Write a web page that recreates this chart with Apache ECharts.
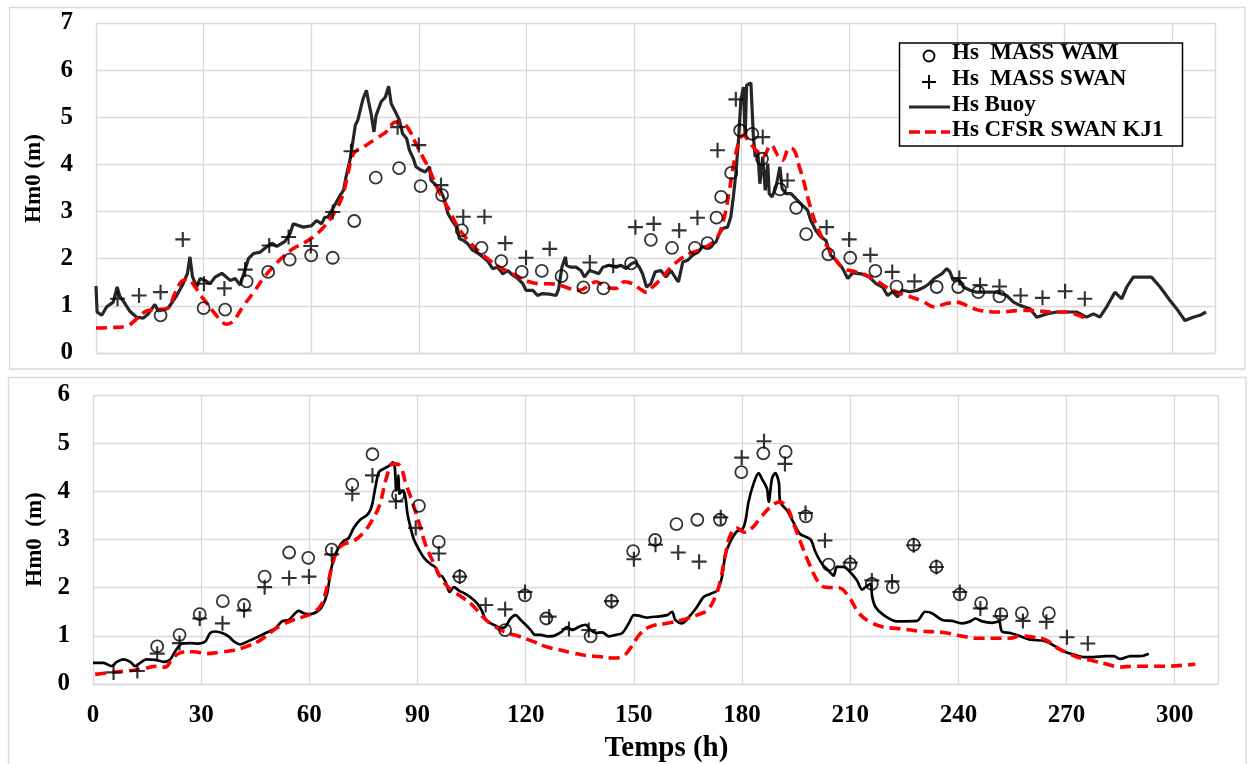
<!DOCTYPE html>
<html>
<head>
<meta charset="utf-8">
<title>Hm0 — Buoy / MASS / CFSR</title>
<script src="https://cdn.jsdelivr.net/npm/echarts@6/dist/echarts.min.js"></script>
<style>
  html, body { margin: 0; padding: 0; background: #ffffff; }
  #chart { width: 1248px; height: 764px; }
</style>
</head>
<body>
<div id="chart"></div>
<script>
// ---- Series names ----
const NAME_WAM = 'Hs  MASS WAM';
const NAME_SWAN = 'Hs  MASS SWAN';
const NAME_BUOY = 'Hs Buoy';
const NAME_CFSR = 'Hs CFSR SWAN KJ1';

// ---- Axis ticks ----
const X_MAX = 312, X_STEP = 30;
const TOP_Y_MAX = 7, BOT_Y_MAX = 6, Y_STEP = 1;

// ---- Upper panel: [time (h), Hm0 (m)] ----
const topWam = [[18,0.8],[30,0.95],[36,0.92],[42,1.52],[48,1.72],[54,1.98],[60,2.07],[66,2.02],[72,2.8],[78,3.72],[84.5,3.92],[90.5,3.54],[96.5,3.35],[102,2.6],[107.5,2.23],[113,1.95],[118.7,1.72],[124.3,1.74],[129.8,1.63],[135.9,1.39],[141.5,1.37],[149.2,1.9],[154.7,2.4],[160.6,2.23],[167,2.23],[170.5,2.33],[173,2.87],[174.3,3.31],[177.1,3.82],[179.6,4.72],[183,4.65],[185.7,4.12],[190.7,3.47],[195.2,3.08],[198,2.52],[204.2,2.09],[210.3,2.02],[217.3,1.74],[223.2,1.41],[234.4,1.4],[240.4,1.4],[246,1.29],[251.9,1.2]];

const topSwan = [[6,1.15],[12,1.22],[18,1.29],[24.2,2.41],[30.1,1.47],[35.8,1.37],[41.6,1.77],[48.3,2.28],[53.7,2.46],[59.9,2.27],[66,2.99],[71.1,4.28],[84.1,4.79],[90,4.41],[96.2,3.56],[102.4,2.89],[108.3,2.89],[114.1,2.33],[119.9,2.02],[126.5,2.21],[137.7,1.92],[144.2,1.85],[150.4,2.67],[155.5,2.74],[162.6,2.6],[167.7,2.87],[173.3,4.3],[178.4,5.38],[185.9,4.58],[192.8,3.66],[203.7,2.67],[210,2.41],[215.9,2.08],[222,1.72],[228.2,1.52],[240.7,1.59],[246.5,1.44],[251.9,1.41],[257.8,1.22],[263.9,1.17],[270.2,1.31],[275.7,1.15]];

const topBuoy = [[0,1.42],[0.3,0.87],[1.6,0.8],[3,0.98],[4.8,1.08],[5.9,1.4],[6.6,1.21],[7.8,1.08],[9.5,0.88],[11.3,0.76],[13.2,0.74],[14.6,0.83],[16.4,1.03],[17.4,0.89],[18.8,0.92],[20.2,0.96],[22.5,1.22],[24.3,1.47],[25.5,1.69],[26.2,2.04],[26.9,1.62],[28.1,1.4],[29,1.58],[30.4,1.54],[31.8,1.47],[33.2,1.61],[35.1,1.69],[37.4,1.54],[38.8,1.58],[40.2,1.44],[42.5,2.0],[43.9,2.11],[45.8,2.14],[47.1,2.22],[49,2.33],[50.4,2.26],[52.7,2.37],[54.1,2.53],[55,2.74],[57.8,2.67],[60.1,2.7],[61.5,2.81],[62.9,2.74],[63.8,2.88],[64.6,2.88],[66,3.06],[67.8,3.31],[69,3.45],[69.7,3.73],[70.8,4.09],[71.4,4.37],[72.3,4.83],[73,4.94],[73.9,5.22],[74.5,5.4],[75.4,5.57],[76,5.33],[76.7,5.08],[77.5,4.69],[78.1,5.04],[79.5,5.33],[80.7,5.43],[81.6,5.66],[82.3,5.29],[83.7,5.08],[84.6,4.94],[85.5,4.65],[86.6,4.55],[87.4,4.3],[88.5,4.12],[89.2,3.95],[90.6,3.88],[91.8,3.84],[93,3.95],[93.4,3.66],[94.8,3.56],[96.2,3.42],[97.1,3.27],[98.1,2.96],[99.5,2.78],[100.8,2.64],[101.3,2.43],[102.4,2.39],[103.6,2.32],[105,2.18],[106.4,2.12],[107.8,2.04],[109.2,1.95],[110.6,1.79],[112,1.82],[113.4,1.68],[114.8,1.75],[116.2,1.65],[117.6,1.58],[119,1.47],[119.9,1.33],[121.8,1.33],[123.1,1.22],[124.5,1.26],[126.4,1.25],[128.3,1.22],[129,1.36],[129.9,1.82],[130.9,2.04],[131.2,1.86],[132.4,1.82],[133.8,1.82],[135.2,1.75],[136.2,1.61],[137.6,1.75],[138.9,1.72],[140.2,1.68],[141.3,1.82],[143.1,1.86],[145,1.82],[146.4,1.86],[147.8,1.79],[149.2,1.89],[150.4,1.93],[151.5,1.82],[152.4,1.68],[153.5,1.4],[154.7,1.47],[155.9,1.72],[157.5,1.75],[158.9,1.61],[160.3,1.75],[161.7,1.58],[162.4,1.51],[163.6,1.93],[165,1.97],[166.3,2.07],[167.7,2.14],[169.1,2.25],[171,2.25],[172.9,2.36],[173.8,2.53],[174.7,2.64],[176.1,2.67],[177,2.89],[177.7,3.31],[178.4,3.8],[179.2,4.58],[179.8,5.36],[180.5,5.64],[181,4.58],[181.4,5.68],[182.6,5.73],[183.3,4.58],[183.8,4.16],[184.5,4.3],[185.1,3.59],[185.9,4.16],[186.6,3.45],[187.3,4.02],[187.7,3.38],[188.5,3.31],[189.6,3.52],[190.7,3.95],[191.3,3.49],[192.4,3.38],[193.8,3.38],[195.2,3.27],[197,3.13],[198.4,3.03],[199.3,2.81],[200.7,2.6],[202.1,2.46],[203.5,2.39],[204.9,2.07],[206.3,1.97],[208.2,1.79],[209.6,1.58],[211,1.7],[213.3,1.68],[215.6,1.61],[217.5,1.47],[219.3,1.4],[220.7,1.22],[222.1,1.3],[223.5,1.19],[224.9,1.33],[226.8,1.3],[229.1,1.33],[231,1.4],[232.3,1.47],[233.7,1.58],[235.8,1.68],[237.2,1.79],[238.1,1.72],[239,1.54],[240.4,1.58],[241.8,1.4],[243.7,1.33],[245.5,1.29],[248.3,1.29],[251.1,1.29],[253.9,1.22],[255.8,1.08],[257.6,1.01],[260.4,0.94],[262.3,0.76],[265.1,0.83],[267.8,0.87],[270.6,0.87],[273.4,0.87],[276.2,0.76],[278.1,0.83],[279.9,0.76],[281.8,0.98],[284.1,1.29],[286,1.15],[287.4,1.4],[289.2,1.61],[292,1.61],[294.3,1.61],[296.7,1.4],[299.4,1.12],[301.3,0.94],[303.6,0.69],[305.9,0.76],[307.8,0.8],[309.5,0.87]];

const topCfsr = [[0,0.53],[4,0.54],[8.5,0.57],[11.3,0.72],[14.1,0.89],[16.9,0.92],[19.7,0.94],[22.1,1.28],[23.9,1.52],[25.7,1.56],[27.6,1.41],[29,1.24],[30.9,1.06],[32.7,0.88],[34.6,0.71],[36.4,0.61],[38.3,0.68],[41.1,1.0],[43.9,1.28],[46.7,1.59],[49.5,1.84],[52.3,2.05],[55.1,2.22],[57.9,2.33],[60.7,2.47],[63.6,2.68],[66.4,2.97],[68.7,3.32],[70.1,3.75],[71.9,4.24],[74.8,4.38],[78.1,4.55],[80.9,4.69],[83.6,4.9],[85.5,4.88],[87.4,4.72],[89.2,4.44],[91.1,4.16],[93,3.88],[94.8,3.56],[96.7,3.27],[98.5,3.03],[100.4,2.74],[102.2,2.53],[104.6,2.32],[106.9,2.14],[109.7,1.97],[112.5,1.82],[115.2,1.72],[118,1.61],[120.8,1.51],[123.6,1.47],[126.4,1.47],[129.2,1.44],[132,1.37],[134.8,1.33],[137.5,1.44],[139.4,1.51],[142.2,1.4],[145,1.37],[147.3,1.51],[149.6,1.47],[151.5,1.37],[153.4,1.29],[155.2,1.4],[158,1.61],[160.3,1.82],[162.6,1.97],[165.4,2.11],[168.2,2.18],[171,2.29],[173.3,2.46],[175.2,2.89],[176.6,3.45],[178,4.09],[179.4,4.51],[180.5,4.62],[182.1,4.48],[184,4.3],[185.9,4.16],[188.2,4.41],[190.1,4.19],[191.4,4.09],[193.3,4.34],[194.7,4.3],[196.1,3.95],[197.5,3.59],[198.9,3.17],[200.7,2.74],[202.6,2.43],[204.5,2.18],[206.3,1.97],[208.6,1.79],[211.9,1.72],[214.7,1.65],[217.5,1.54],[220.3,1.4],[223,1.3],[226.8,1.2],[230.5,1.1],[233.5,0.98],[237.2,1.05],[240,1.08],[242.7,1.01],[246.5,0.9],[252,0.87],[257.6,0.9],[261.3,0.9],[266.9,0.87],[270.6,0.87],[273.9,0.8],[276.2,0.73]];

// ---- Lower panel: [time (h), Hm0 (m)] ----
const botWam = [[17.8,0.78],[24,1.02],[29.6,1.45],[36,1.72],[41.9,1.64],[47.6,2.23],[54.4,2.73],[59.7,2.62],[66.2,2.79],[71.9,4.14],[77.5,4.77],[84.6,3.92],[90.4,3.7],[95.9,2.95],[101.7,2.23],[114.3,1.12],[119.8,1.84],[125.7,1.36],[138,0.99],[143.8,1.72],[149.8,2.76],[155.9,2.99],[161.8,3.32],[167.6,3.41],[173.9,3.41],[179.8,4.4],[185.9,4.79],[192.1,4.82],[197.7,3.48],[204,2.48],[210,2.49],[216,2.08],[221.8,2.01],[227.6,2.89],[233.9,2.43],[240.4,1.86],[246.3,1.68],[251.9,1.45],[257.6,1.47],[265.1,1.47]];

const botSwan = [[5.7,0.24],[12.3,0.27],[17.8,0.63],[24,0.85],[29.6,1.36],[35.9,1.26],[41.9,1.53],[47.6,2.01],[54.4,2.2],[59.9,2.23],[66.2,2.69],[71.9,3.95],[77.5,4.33],[84,3.79],[89.5,3.24],[95.9,2.71],[101.7,2.23],[108.9,1.64],[114.3,1.55],[119.8,1.91],[126.5,1.4],[132,1.14],[137.5,1.12],[143.8,1.72],[150,2.59],[156,2.89],[162.3,2.73],[168.1,2.54],[174.1,3.46],[179.9,4.7],[186.1,5.04],[191.9,4.57],[197.6,3.55],[203,2.98],[210,2.52],[216,2.15],[221.6,2.13],[227.6,2.88],[233.9,2.43],[240.4,1.91],[246.1,1.57],[251.6,1.41],[257.9,1.31],[264.4,1.29],[270.1,0.97],[275.9,0.84]];

const botBuoy = [[0,0.44],[2.9,0.44],[5.2,0.37],[6.6,0.46],[8.5,0.51],[10.3,0.46],[11.7,0.37],[13.1,0.44],[14.8,0.51],[17.3,0.5],[19.6,0.46],[21.4,0.51],[22.8,0.68],[24.7,0.84],[27,0.85],[29.3,0.84],[31.2,0.89],[32.5,1.06],[33.9,1.09],[35.8,1.06],[37.6,0.99],[39,0.89],[40.8,0.82],[43.1,0.89],[46.4,1.0],[48.2,1.07],[50.5,1.15],[52.4,1.3],[54.3,1.33],[55.6,1.43],[57,1.52],[58.4,1.47],[60.2,1.45],[62.1,1.5],[63.5,1.6],[64.9,1.87],[65.8,2.28],[66.7,2.59],[68.1,2.83],[69.5,2.97],[70.9,3.03],[72.3,3.24],[74.1,3.41],[76,3.51],[76.9,3.61],[77.5,3.75],[78.4,4.12],[79.3,4.4],[80.7,4.47],[82.1,4.53],[83.2,4.6],[83.7,4.5],[84.1,4.02],[84.7,4.33],[85,3.95],[86,4.02],[86.7,3.85],[87.2,3.54],[88.1,3.24],[89,3.0],[90.4,2.79],[91.8,2.62],[93.6,2.49],[95,2.42],[95.8,2.27],[96.9,2.23],[98,2.08],[98.9,1.91],[100.1,2.01],[101.5,1.94],[103.3,1.87],[105.2,1.77],[106.6,1.67],[107.8,1.53],[108.9,1.34],[110.3,1.26],[111.7,1.21],[113.1,1.16],[114.4,1.19],[115.8,1.36],[117.2,1.43],[118.6,1.33],[120,1.23],[121.4,1.12],[122.6,1.02],[124.1,1.02],[126,0.99],[127.8,1.0],[129.7,1.07],[131.5,1.18],[132.9,1.12],[134.8,1.19],[136.6,1.23],[138,1.12],[139.4,1.06],[141.2,1.07],[143.1,0.99],[145,1.02],[146.8,1.06],[148.6,1.26],[150,1.43],[151.4,1.42],[153.5,1.38],[156.4,1.4],[159.2,1.43],[160.6,1.5],[161.5,1.33],[163.3,1.26],[165.7,1.43],[167.5,1.6],[169.4,1.81],[171.2,1.87],[173.1,1.94],[174.4,2.21],[175.4,2.69],[176.8,2.96],[178.6,3.17],[180,3.2],[180.9,3.37],[181.8,3.78],[183.2,4.16],[184.6,4.38],[185.5,4.26],[186.9,4.06],[187.4,3.78],[188.3,4.26],[189.2,4.38],[190.2,4.19],[190.6,3.78],[192.5,3.6],[194.3,3.35],[196,3.12],[199,3.0],[200.3,2.75],[202.2,2.49],[204,2.35],[205.4,2.25],[206.3,2.43],[208.2,2.43],[210,2.32],[211.9,2.15],[213.3,1.96],[214.2,2.01],[215.6,2.08],[216.1,1.81],[217,1.6],[219.3,1.43],[223,1.3],[228.5,1.31],[230.8,1.5],[232.7,1.47],[235.5,1.33],[238.2,1.31],[241,1.26],[243.3,1.3],[244.7,1.36],[246.6,1.3],[249.3,1.27],[251.2,1.3],[252.1,1.09],[254.4,1.06],[257.2,0.99],[259.9,0.92],[264.1,0.89],[266.9,0.78],[269.2,0.68],[272,0.61],[274.7,0.56],[277.5,0.56],[280.8,0.58],[283.1,0.58],[284.9,0.52],[287.7,0.58],[290.5,0.58],[292.8,0.63]];

const botCfsr = [[0.6,0.2],[4.8,0.24],[9.4,0.27],[14,0.32],[17.7,0.37],[20,0.35],[21.9,0.51],[24.2,0.65],[27.9,0.67],[31.6,0.63],[35.3,0.66],[39,0.7],[42.7,0.78],[46.4,0.91],[49.6,1.09],[52.4,1.23],[55.6,1.33],[58.9,1.41],[61.6,1.5],[63.5,1.67],[64.9,2.01],[66.3,2.45],[67.7,2.76],[69.5,2.9],[72.3,2.97],[75,3.14],[77.4,3.4],[79.5,3.72],[81.3,4.26],[83.2,4.57],[84.9,4.55],[86.8,4.15],[88.7,3.75],[90.4,3.35],[92.2,2.9],[94.6,2.49],[96.9,2.15],[99.6,1.94],[102.4,1.8],[105.2,1.64],[108,1.4],[110.7,1.23],[114.4,1.07],[118.1,0.99],[121.8,0.89],[125.5,0.78],[129.2,0.71],[132.9,0.65],[136.6,0.59],[140.3,0.57],[144,0.54],[146.8,0.57],[149.1,0.75],[151.6,1.03],[154.5,1.19],[159.2,1.26],[163.3,1.33],[167.5,1.43],[170.3,1.53],[172.6,1.81],[174,2.15],[175.4,2.69],[176.8,3.1],[178.6,3.24],[180.6,3.15],[182.8,3.24],[185,3.44],[187.8,3.67],[190.4,3.78],[192.6,3.65],[194.4,3.31],[196.3,2.93],[198.6,2.5],[201.3,2.1],[203.2,2.01],[206.9,2.0],[209.7,1.8],[212.4,1.47],[215.2,1.3],[218.9,1.19],[223.5,1.15],[229.1,1.1],[235.9,1.07],[240.5,1.0],[245.2,0.95],[249.8,0.95],[254.4,0.95],[257.2,1.0],[260.9,0.97],[264.1,0.92],[267.4,0.75],[270.1,0.65],[273.8,0.54],[277.5,0.48],[281.2,0.41],[284.9,0.35],[288.6,0.37],[293.2,0.37],[297.9,0.37],[302.5,0.39],[305.7,0.41]];

// ---- Styling ----
const FONT = "'Liberation Serif', 'Times New Roman', serif";
const GRID_COLOR = '#d9d9d9';
const PLUS_PATH = 'path://M6,0H8V6H14V8H8V14H6V8H0V6H6Z';

function xAxisFor(gridIndex, showLabels) {
  return {
    type: 'value', gridIndex, min: 0, max: X_MAX, interval: X_STEP,
    axisLine: { show: true, lineStyle: { color: GRID_COLOR, width: 1.3 } },
    axisTick: { show: false },
    axisLabel: { show: showLabels, fontFamily: FONT, fontWeight: 'bold', fontSize: 25, color: '#000', margin: 19,
      formatter: v => (v % X_STEP === 0 ? String(v) : '') },
    splitLine: { show: true, lineStyle: { color: GRID_COLOR, width: 1.3 } },
    name: showLabels ? 'Temps (h)' : '',
    nameLocation: 'middle', nameGap: 50,
    nameTextStyle: { fontFamily: FONT, fontWeight: 'bold', fontSize: 29, color: '#000', padding: [0, 0, 0, 22] }
  };
}

function yAxisFor(gridIndex, max, name, gap, pad) {
  return {
    type: 'value', gridIndex, min: 0, max, interval: Y_STEP,
    axisLine: { show: false }, axisTick: { show: false },
    axisLabel: { fontFamily: FONT, fontWeight: 'bold', fontSize: 25, color: '#000', margin: 23 },
    splitLine: { show: true, lineStyle: { color: GRID_COLOR, width: 1.3 } },
    name, nameLocation: 'middle', nameGap: gap, nameRotate: 90,
    nameTextStyle: { fontFamily: FONT, fontWeight: 'bold', fontSize: 23, color: '#000', padding: pad }
  };
}

function buoySeries(data, idx, color, width, smooth) {
  return { name: NAME_BUOY, type: 'line', xAxisIndex: idx, yAxisIndex: idx, data, showSymbol: false,
    smooth, lineStyle: { color, width }, z: 2, silent: true };
}
function cfsrSeries(data, idx) {
  return { name: NAME_CFSR, type: 'line', xAxisIndex: idx, yAxisIndex: idx, data, showSymbol: false,
    smooth: 0.4, lineStyle: { color: '#ff0000', width: 3.6, type: [11, 6] }, z: 3, silent: true };
}
function wamSeries(data, idx) {
  return { name: NAME_WAM, type: 'scatter', xAxisIndex: idx, yAxisIndex: idx, data, symbol: 'circle', symbolSize: 12,
    itemStyle: { color: 'rgba(0,0,0,0)', borderColor: '#000', borderWidth: 1.8 }, z: 4, silent: true };
}
function swanSeries(data, idx) {
  return { name: NAME_SWAN, type: 'scatter', xAxisIndex: idx, yAxisIndex: idx, data, symbol: PLUS_PATH, symbolSize: 15,
    itemStyle: { color: '#000' }, z: 4, silent: true };
}

// Legend drawn as a framed key in the upper panel
const LX = 899.5, LY = 43, LW = 283, LH = 103;
const keyText = (y, text) => ({ type: 'text', left: 952, top: y - 13, z: 21,
  style: { text, fontFamily: FONT, fontWeight: 'bold', fontSize: 23, fill: '#000' } });

const option = {
  backgroundColor: '#ffffff',
  animation: false,
  grid: [
    { left: 96, right: 33, top: 23, height: 330 },
    { left: 93, right: 30, top: 395, height: 293 }
  ],
  xAxis: [xAxisFor(0, false), xAxisFor(1, true)],
  yAxis: [yAxisFor(0, TOP_Y_MAX, 'Hm0 (m)', 50, [0, 0, 0, 19]), yAxisFor(1, BOT_Y_MAX, 'Hm0  (m)', 43, [0, 0, 0, 0])],
  series: [
    buoySeries(topBuoy, 0, '#262626', 3.2, false),
    cfsrSeries(topCfsr, 0),
    wamSeries(topWam, 0),
    swanSeries(topSwan, 0),
    buoySeries(botBuoy, 1, '#000000', 2.7, 0.3),
    cfsrSeries(botCfsr, 1),
    wamSeries(botWam, 1),
    swanSeries(botSwan, 1)
  ],
  graphic: [
    // panel frames
    { type: 'rect', z: -10, shape: { x: 9.5, y: 7.5, width: 1235.5, height: 361.5 },
      style: { fill: 'none', stroke: GRID_COLOR, lineWidth: 1.3 } },
    { type: 'rect', z: -10, shape: { x: 8.5, y: 377.5, width: 1237.5, height: 400 },
      style: { fill: 'none', stroke: GRID_COLOR, lineWidth: 1.3 } },
    // key
    { type: 'rect', z: 20, shape: { x: LX, y: LY, width: LW, height: LH },
      style: { fill: '#ffffff', stroke: '#000', lineWidth: 1.5 } },
    { type: 'circle', z: 21, shape: { cx: 929, cy: 56, r: 5.5 },
      style: { fill: 'none', stroke: '#000', lineWidth: 1.8 } },
    { type: 'line', z: 21, shape: { x1: 922, y1: 82, x2: 936, y2: 82 }, style: { stroke: '#000', lineWidth: 2 } },
    { type: 'line', z: 21, shape: { x1: 929, y1: 75, x2: 929, y2: 89 }, style: { stroke: '#000', lineWidth: 2 } },
    { type: 'line', z: 21, shape: { x1: 909, y1: 107, x2: 950, y2: 107 }, style: { stroke: '#262626', lineWidth: 3.2 } },
    { type: 'line', z: 21, shape: { x1: 909, y1: 132, x2: 950, y2: 132 },
      style: { stroke: '#ff0000', lineWidth: 3.6, lineDash: [11, 5] } },
    keyText(55, NAME_WAM),
    keyText(81, NAME_SWAN),
    keyText(107, NAME_BUOY),
    keyText(132, NAME_CFSR)
  ]
};

const chart = echarts.init(document.getElementById('chart'), null, { renderer: 'canvas' });
chart.setOption(option);
</script>
</body>
</html>
